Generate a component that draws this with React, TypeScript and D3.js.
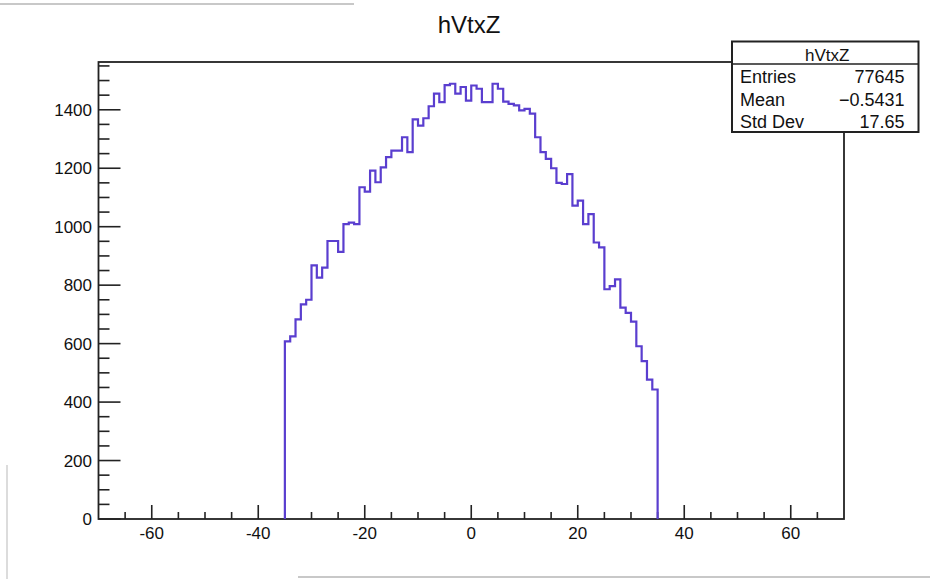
import React from "react";
import * as d3 from "d3";

// histogram hVtxZ: 140 bins over [-70, 70], only [-35, 35] is filled
const histTitle = "hVtxZ";
const binStart = -35;
const binWidth = 1;
const counts = [
  608, 625, 683, 734, 750, 868, 826, 860, 951, 951,
  914, 1009, 1014, 1009, 1135, 1120, 1192, 1152, 1203, 1238,
  1260, 1260, 1306, 1255, 1367, 1346, 1371, 1412, 1455, 1426,
  1484, 1489, 1455, 1478, 1431, 1483, 1472, 1426, 1426, 1489,
  1472, 1428, 1420, 1415, 1398, 1403, 1387, 1306, 1255, 1232,
  1200, 1150, 1146, 1180, 1072, 1089, 1009, 1043, 946, 929,
  786, 797, 820, 723, 705, 675, 591, 540, 477, 443,
];

const xMajorTicks = [-60, -40, -20, 0, 20, 40, 60];
const yMajorTicks = [0, 200, 400, 600, 800, 1000, 1200, 1400];

const statLabels = ["Entries", "Mean", "Std Dev"];
const statValues = ["77645", "\u22120.5431", "17.65"];

const W = 930;
const H = 579;
const frame = { left: 98.5, right: 844, top: 62, bottom: 519 };
const font = "'Liberation Sans', Arial, Helvetica, sans-serif";
const lineColor = "#5a3ecf";

export default function App() {
  const x = d3.scaleLinear().domain([-70, 70]).range([frame.left, frame.right]);
  const yMax = d3.max(counts)! * 1.05;
  const y = d3.scaleLinear().domain([0, yMax]).range([frame.bottom, frame.top]);

  // outline of the histogram, ROOT style
  const pts: [number, number][] = [[binStart, 0]];
  counts.forEach((c, i) => pts.push([binStart + i * binWidth, c]));
  const hi = binStart + counts.length * binWidth;
  pts.push([hi, counts[counts.length - 1]]);
  pts.push([hi, 0]);
  const path = d3
    .line<[number, number]>()
    .x((d) => x(d[0]))
    .y((d) => y(d[1]))
    .curve(d3.curveStepAfter)(pts);

  const xMinor = d3.range(-65, 70, 5).filter((v) => v % 20 !== 0);
  const yMinor = d3.range(50, yMax, 50).filter((v) => v % 200 !== 0);

  const box = { x: 732, y: 41.5, w: 186.5, h: 90.5, head: 22.5 };

  return (
    <svg
      width={W}
      height={H}
      style={{ position: "absolute", left: 0, top: 0, background: "#fff" }}
      fontFamily={font}
    >
      {/* stray screenshot edges */}
      <line x1={0} x2={354} y1={4} y2={4} stroke="#c8c8c8" strokeWidth={2} />
      <line x1={7} x2={7} y1={465} y2={579} stroke="#d0d0d0" strokeWidth={1.5} />
      <line x1={298} x2={930} y1={577} y2={577} stroke="#c8c8c8" strokeWidth={2} />

      {/* title */}
      <text x={469} y={33} textAnchor="middle" fontSize={24} fill="#111">
        {histTitle}
      </text>

      {/* frame */}
      <rect
        x={frame.left}
        y={frame.top}
        width={frame.right - frame.left}
        height={frame.bottom - frame.top}
        fill="none"
        stroke="#222"
        strokeWidth={1.8}
      />

      {/* x ticks */}
      {xMajorTicks.map((t) => (
        <g key={"xm" + t}>
          <line x1={x(t)} x2={x(t)} y1={frame.bottom} y2={frame.bottom - 14} stroke="#222" strokeWidth={1.6} />
          <text x={x(t)} y={539} textAnchor="middle" fontSize={17} fill="#111">
            {t < 0 ? "-" + Math.abs(t) : t}
          </text>
        </g>
      ))}
      {xMinor.map((t) => (
        <line key={"xn" + t} x1={x(t)} x2={x(t)} y1={frame.bottom} y2={frame.bottom - 7} stroke="#222" strokeWidth={1.6} />
      ))}

      {/* y ticks */}
      {yMajorTicks.map((t) => (
        <g key={"ym" + t}>
          <line x1={frame.left} x2={frame.left + 22} y1={y(t)} y2={y(t)} stroke="#222" strokeWidth={1.6} />
          <text x={92} y={y(t) + 6} textAnchor="end" fontSize={17} fill="#111">
            {t}
          </text>
        </g>
      ))}
      {yMinor.map((t) => (
        <line key={"yn" + t} x1={frame.left} x2={frame.left + 11} y1={y(t)} y2={y(t)} stroke="#222" strokeWidth={1.6} />
      ))}

      {/* histogram */}
      <path d={path ?? ""} fill="none" stroke={lineColor} strokeWidth={2.2} />

      {/* stats box */}
      <rect x={box.x} y={box.y} width={box.w} height={box.h} fill="#fff" stroke="#222" strokeWidth={2} />
      <line x1={box.x} x2={box.x + box.w} y1={box.y + box.head} y2={box.y + box.head} stroke="#222" strokeWidth={1.6} />
      <text x={box.x + box.w / 2 + 2} y={box.y + 19} textAnchor="middle" fontSize={17} fill="#111">
        {histTitle}
      </text>
      {statLabels.map((s, i) => (
        <g key={s}>
          <text x={box.x + 8} y={box.y + 41.5 + i * 22.5} fontSize={18} fill="#111">
            {s}
          </text>
          <text x={box.x + box.w - 14} y={box.y + 41.5 + i * 22.5} textAnchor="end" fontSize={18} fill="#111">
            {statValues[i]}
          </text>
        </g>
      ))}
    </svg>
  );
}
